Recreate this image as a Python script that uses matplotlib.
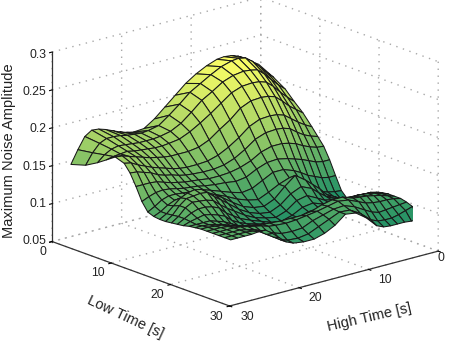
import numpy as np
import matplotlib
matplotlib.use("Agg")
import matplotlib.pyplot as plt

high_time = [2, 3, 4, 5, 6, 7, 8, 9.5, 11, 12.5, 14, 15.5, 17, 18.5, 20, 21, 22, 23, 24, 25, 26, 27, 28, 29]
low_time = [2, 4.5, 6.5, 8, 9.5, 11, 12, 13, 14, 15, 16, 17, 18, 19, 20, 21, 22, 23, 24, 25, 26, 27, 28, 29]
amp_rows = [
[.222,.228,.235,.240,.243,.244,.243,.238,.231,.222,.210,.198,.186,.177,.176,.178,.181,.185,.189,.192,.193,.187,.172,.155],
[.212,.221,.231,.240,.247,.249,.248,.244,.237,.229,.221,.209,.198,.188,.185,.184,.185,.186,.188,.189,.189,.185,.175,.161],
[.202,.210,.219,.229,.237,.239,.240,.238,.233,.224,.216,.204,.193,.186,.183,.182,.182,.182,.183,.184,.185,.183,.178,.170],
[.190,.198,.207,.217,.225,.228,.229,.228,.223,.213,.203,.194,.186,.180,.178,.177,.177,.178,.179,.180,.182,.181,.180,.178],
[.179,.186,.193,.202,.210,.213,.214,.213,.207,.195,.186,.176,.170,.168,.168,.168,.169,.171,.173,.176,.179,.182,.185,.186],
[.165,.170,.176,.183,.190,.193,.194,.193,.187,.176,.167,.160,.156,.155,.155,.156,.158,.161,.164,.167,.171,.175,.180,.182],
[.155,.158,.162,.168,.175,.178,.179,.178,.173,.163,.155,.150,.148,.148,.149,.150,.152,.155,.157,.160,.165,.168,.171,.172],
[.145,.146,.149,.153,.158,.161,.163,.163,.159,.151,.146,.143,.142,.142,.144,.145,.146,.148,.150,.153,.156,.157,.157,.157],
[.130,.130,.132,.136,.140,.143,.146,.149,.148,.143,.136,.134,.136,.137,.139,.141,.142,.143,.145,.147,.148,.147,.144,.140],
[.112,.112,.114,.118,.122,.128,.133,.138,.138,.131,.124,.122,.126,.131,.136,.139,.140,.141,.142,.143,.143,.140,.134,.129],
[.095,.096,.098,.101,.108,.115,.124,.130,.125,.118,.112,.115,.120,.127,.133,.136,.138,.141,.141,.141,.140,.136,.130,.126],
[.087,.090,.095,.100,.110,.118,.126,.136,.125,.112,.106,.108,.113,.122,.132,.138,.143,.150,.152,.150,.146,.138,.130,.125],
[.090,.092,.095,.098,.103,.110,.118,.124,.118,.107,.101,.103,.108,.116,.127,.134,.141,.149,.150,.149,.148,.141,.131,.125],
[.095,.097,.099,.100,.101,.103,.108,.115,.112,.102,.097,.100,.104,.111,.120,.126,.133,.141,.144,.145,.146,.141,.132,.126],
[.102,.103,.103,.102,.100,.101,.103,.108,.106,.099,.095,.097,.102,.107,.113,.119,.125,.134,.138,.140,.140,.137,.132,.127],
[.107,.107,.106,.105,.104,.103,.103,.104,.103,.099,.096,.097,.101,.105,.109,.113,.118,.126,.130,.133,.135,.133,.131,.128],
[.110,.110,.110,.109,.108,.107,.106,.105,.104,.101,.100,.099,.103,.106,.109,.111,.114,.119,.124,.127,.130,.130,.130,.130],
[.112,.114,.116,.116,.116,.115,.113,.113,.112,.109,.106,.105,.107,.109,.112,.114,.116,.119,.122,.125,.128,.130,.131,.131],
[.113,.116,.119,.121,.122,.122,.120,.121,.120,.116,.113,.112,.113,.115,.117,.118,.120,.122,.124,.127,.130,.131,.132,.132],
[.113,.116,.119,.121,.123,.124,.125,.130,.130,.127,.122,.120,.120,.120,.121,.122,.123,.125,.127,.129,.131,.132,.132,.132],
[.113,.115,.116,.116,.117,.119,.123,.129,.131,.128,.125,.123,.121,.120,.121,.122,.125,.127,.129,.131,.132,.132,.132,.132],
[.111,.110,.109,.108,.107,.110,.115,.123,.128,.127,.123,.119,.113,.112,.113,.116,.120,.124,.128,.130,.132,.132,.132,.132],
[.108,.105,.102,.100,.100,.101,.105,.117,.125,.126,.120,.114,.108,.106,.107,.110,.116,.122,.128,.131,.132,.132,.132,.132],
[.094,.094,.095,.095,.095,.096,.100,.114,.124,.126,.115,.108,.104,.104,.106,.110,.118,.126,.133,.133,.132,.132,.132,.132],
]
time_ticks = [0, 10, 20, 30]
amp_ticks = [0.05, 0.1, 0.15, 0.2, 0.25, 0.3]
amp_tick_labels = ["0.05", "0.1", "0.15", "0.2", "0.25", "0.3"]
W, HT = 454, 345
amp_label_y = [241, 204, 167, 129, 92, 54.5]
low_label_xy = [(43, 252), (98, 273), (157, 295), (216, 317)]
high_label_xy = [(441, 258), (385, 280), (315, 298), (247, 317)]

plt.rcParams['font.family'] = ['Liberation Sans', 'DejaVu Sans']
fig = plt.figure(figsize=(4.54, 3.45), dpi=100)
ax = fig.add_axes([13.5/W, 16.25/HT, 1, 1], projection='3d', proj_type='ortho')
ax.view_init(elev=18, azim=49.6)
ax.set_box_aspect((1, 1, 0.7275), zoom=1.2257)

H, L = np.meshgrid(high_time, low_time)
Z = np.array(amp_rows)
ax.plot_surface(H, L, Z, cmap='summer', vmin=0.07, vmax=0.25, rstride=1, cstride=1, shade=False,
                edgecolor='#181818', linewidth=0.75, antialiased=True)

ax.set_xlim(0, 30, view_margin=0)
ax.set_ylim(0, 30, view_margin=0)
ax.set_zlim(0.05, 0.3, view_margin=0)
ax.set_xticks(time_ticks)
ax.set_yticks(time_ticks)
ax.set_zticks(amp_ticks)
ax.set_xticklabels([])
ax.set_yticklabels([])
ax.set_zticklabels([])

for axis in (ax.xaxis, ax.yaxis, ax.zaxis):
    axis.set_pane_color((1, 1, 1, 0))
    axis.pane.set_edgecolor((1, 1, 1, 0))
    axis.line.set_color('#333333')
    axis.line.set_linewidth(0.9)
    axis._axinfo['grid'].update(color='#a8a8a8', linestyle=(0, (1, 4)), linewidth=1.0)
    axis._axinfo['tick'].update(inward_factor=0.15, outward_factor=0.0)

txt = dict(fontsize=8.8, color='#222222', ha='center', va='center')
for lab, y in zip(amp_tick_labels, amp_label_y):
    fig.text(46/W, 1 - y/HT, lab, **{**txt, 'ha': 'right'})
for val, (x, y) in zip(time_ticks, low_label_xy):
    fig.text(x/W, 1 - y/HT, str(val), **txt)
for val, (x, y) in zip(time_ticks, high_label_xy):
    fig.text(x/W, 1 - y/HT, str(val), **txt)
lab = dict(fontsize=10.5, color='#222222', ha='center', va='center', rotation_mode='anchor')
fig.text(9/W, 1 - 151/HT, 'Maximum Noise Amplitude', rotation=90, **lab)
fig.text(125/W, 1 - 317/HT, 'Low Time [s]', rotation=-25, **lab)
fig.text(369/W, 1 - 318/HT, 'High Time [s]', rotation=13, **lab)

fig.savefig('out.png', dpi=100)
